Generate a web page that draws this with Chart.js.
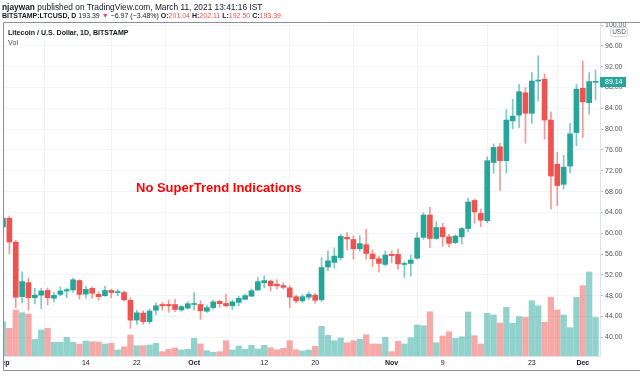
<!DOCTYPE html>
<html>
<head>
<meta charset="utf-8">
<script src="https://cdn.jsdelivr.net/npm/chart.js@4.4.1/dist/chart.umd.min.js"></script>
<style>
  html, body { margin: 0; padding: 0; background: #fff; }
  #wrap { position: relative; width: 640px; height: 376px; overflow: hidden;
          font-family: 'Liberation Sans', Arial, sans-serif; color: #131722; }
  #chart { position: absolute; left: 0; top: 0; }
  .txt { position: absolute; white-space: nowrap; line-height: 1; }
  .dn { color: #ef5350; }
  #line1 { left: 2px; top: 2.5px; font-size: 8.35px; }
  #line2 { left: 2px; top: 12px; font-size: 7px; }
  #sym { left: 8px; top: 28.5px; font-size: 7.05px; font-weight: bold; }
  #vol { left: 8px; top: 38.5px; font-size: 7.2px; color: #50535e; }
  #note { left: 136px; top: 181px; font-size: 13px; font-weight: bold; color: #ff0000; }
</style>
</head>
<body>
<div id="wrap">
  <canvas id="chart" width="640" height="376"></canvas>
  <div class="txt" id="line1"><b>njaywan</b> published on TradingView.com, March 11, 2021 13:41:16 IST</div>
  <div class="txt" id="line2"><b>BITSTAMP:LTCUSD, D</b> 193.39 <span class="dn">▼</span> −6.97 (−3.48%) <b>O:</b><span class="dn">201.04</span> <b>H:</b><span class="dn">202.11</span> <b>L:</b><span class="dn">192.50</span> <b>C:</b><span class="dn">193.39</span></div>
  <div class="txt" id="sym">Litecoin / U.S. Dollar, 1D, BITSTAMP</div>
  <div class="txt" id="vol">Vol</div>
  <div class="txt" id="note">No SuperTrend Indications</div>
</div>
<script>
// daily candles, 1 Sep 2020 (day 0) to 3 Dec 2020 (day 93)
const open  = [61.2, 62.9, 58.3, 47.8, 50.5, 47.6, 48.1, 49.0, 47.5, 48.25,
               48.9, 49.1, 50.9, 48.3, 49.4, 48.25, 48.0, 49.0, 48.6, 48.6,
               47.1, 43.3, 44.65, 43.0, 45.2, 46.3, 46.3, 46.3, 45.25, 45.6,
               46.3, 46.3, 45.0, 45.7, 46.9, 46.5, 46.05, 46.7, 47.3, 47.9,
               49.1, 50.5, 50.8, 50.2, 49.95, 49.5, 47.8, 47.0, 47.7, 48.1,
               47.2, 53.5, 54.4, 55.3, 59.2, 58.8, 57.0, 57.8, 56.0, 55.1,
               54.0, 55.95, 55.95, 54.0, 54.2, 55.2, 59.2, 63.5, 59.0, 61.1,
               59.3, 58.2, 59.3, 60.9, 66.3, 63.8, 62.4, 73.6, 76.6, 73.95,
               81.6, 82.7, 87.0, 83.05, 89.25, 89.6, 81.75, 73.25, 69.4, 72.9,
               79.35, 87.85, 85.1, 89.0];
const high  = [63.3, 63.3, 58.6, 52.6, 51.4, 49.4, 49.4, 49.5, 48.6, 49.7,
               49.5, 51.4, 51.05, 49.8, 49.7, 48.75, 49.85, 49.2, 49.2, 48.9,
               47.6, 45.2, 45.1, 45.4, 46.6, 46.7, 47.15, 47.3, 46.1, 46.8,
               48.6, 47.0, 46.2, 47.15, 47.15, 48.3, 47.15, 47.9, 48.3, 49.3,
               51.45, 51.8, 51.0, 51.1, 50.45, 49.9, 48.1, 48.2, 48.7, 48.4,
               55.3, 56.6, 57.2, 59.8, 60.1, 59.5, 59.5, 60.8, 56.8, 55.6,
               56.6, 56.6, 56.95, 54.5, 55.8, 60.1, 63.95, 65.0, 62.2, 61.9,
               59.8, 59.7, 61.1, 66.7, 66.6, 64.65, 74.7, 77.15, 77.3, 83.8,
               85.75, 88.6, 88.0, 90.9, 94.1, 90.6, 83.35, 75.55, 75.0, 81.1,
               88.6, 93.1, 90.9, 91.4];
const low   = [60.8, 56.1, 45.7, 46.6, 45.2, 46.4, 45.5, 46.2, 46.8, 48.0,
               47.6, 48.6, 47.35, 47.5, 47.5, 47.15, 47.85, 47.6, 48.0, 47.0,
               41.7, 42.5, 42.5, 42.6, 44.3, 45.2, 44.8, 44.9, 45.0, 45.4,
               45.2, 43.45, 44.8, 45.4, 45.75, 45.85, 45.3, 46.05, 47.2, 47.8,
               48.9, 49.5, 48.9, 49.3, 49.3, 45.7, 46.6, 46.7, 47.2, 46.5,
               46.9, 52.8, 53.25, 54.85, 56.8, 55.0, 56.6, 55.0, 53.55, 52.5,
               53.7, 54.3, 53.1, 51.5, 51.75, 55.0, 58.8, 57.2, 58.8, 57.5,
               57.3, 58.0, 57.9, 60.3, 61.9, 61.25, 62.0, 71.5, 68.2, 71.5,
               80.1, 80.35, 77.3, 81.1, 85.4, 78.05, 64.6, 65.3, 68.5, 71.6,
               76.8, 78.4, 82.9, 85.6];
const close = [62.9, 58.3, 47.7, 50.7, 47.6, 48.1, 48.9, 47.6, 48.05, 48.9,
               49.15, 51.05, 48.25, 49.2, 48.45, 47.8, 49.0, 48.6, 48.75, 47.2,
               43.3, 44.7, 43.0, 45.05, 46.05, 46.05, 46.05, 45.35, 45.9, 46.45,
               46.4, 45.1, 45.7, 46.8, 46.45, 46.05, 46.8, 47.5, 48.0, 48.95,
               50.7, 50.9, 49.9, 49.9, 49.6, 47.7, 47.0, 47.8, 48.25, 47.1,
               53.4, 54.7, 55.6, 59.4, 58.9, 57.0, 58.0, 56.1, 55.1, 54.2,
               55.8, 55.7, 54.1, 54.15, 54.85, 59.1, 63.5, 59.0, 61.1, 59.3,
               58.05, 59.45, 60.9, 66.0, 64.1, 62.5, 73.95, 76.5, 73.95, 81.75,
               82.5, 87.2, 83.05, 89.25, 89.45, 81.75, 71.0, 69.15, 72.7, 79.1,
               87.7, 85.25, 89.15, 89.14];
// volume, thousand LTC
const volume = [343, 277, 460, 433, 420, 167, 260, 277, 137, 137,
                187, 137, 120, 150, 143, 140, 120, 127, 60, 93,
                210, 103, 103, 110, 127, 43, 67, 80, 60, 67,
                177, 120, 53, 37, 43, 153, 60, 100, 67, 107,
                70, 107, 83, 63, 77, 153, 63, 50, 60, 97,
                297, 207, 153, 180, 133, 153, 167, 213, 120, 120,
                187, 43, 147, 120, 183, 310, 303, 443, 133, 200,
                243, 177, 193, 440, 203, 120, 427, 410, 330, 487,
                327, 393, 387, 553, 503, 337, 587, 460, 410, 283,
                587, 703, 840, 387];

const tickDay  = [0, 13, 21, 30, 41, 49, 61, 69, 83, 91];
const tickText = ['Sep', '14', '22', 'Oct', '12', '20', 'Nov', '9', '23', 'Dec'];
const priceTicks = [40, 44, 48, 52, 56, 60, 64, 68, 72, 76, 80, 84, 88, 92, 96, 100];

const FONT = "'Liberation Sans', Arial, sans-serif";
const UP = '#26a69a', DOWN = '#ef5350';

const days = open.map((_, i) => i);
const isUp = days.map(i => close[i] >= open[i]);

function tickLabel(v) {
    const k = tickDay.indexOf(v);
    return k < 0 ? '' : tickText[k];
}

const overlay = {
    id: 'overlay',
    afterDraw(chart) {
        const { ctx } = chart;
        const y = chart.scales.y;
        const last = close[close.length - 1];
        const py = Math.round(y.getPixelForValue(last));
        ctx.save();

        // last price tag on the price axis
        ctx.fillStyle = UP;
        ctx.fillRect(600, py - 5, 26, 10);
        ctx.fillStyle = '#ffffff';
        ctx.font = '7px ' + FONT;
        ctx.textBaseline = 'middle';
        ctx.textAlign = 'left';
        ctx.fillText(last.toFixed(2), 605, py + 0.5);

        // currency box
        ctx.fillStyle = '#ffffff';
        ctx.strokeStyle = '#d1d4dc';
        ctx.lineWidth = 1;
        ctx.beginPath();
        ctx.roundRect(610.5, 27.5, 17, 9, 2);
        ctx.fill();
        ctx.stroke();
        ctx.fillStyle = '#50535e';
        ctx.font = '6.5px ' + FONT;
        ctx.textAlign = 'center';
        ctx.fillText('USD', 619, 32.5);

        // the pane frame hides what lies left of it
        ctx.fillStyle = '#ffffff';
        ctx.fillRect(0, 357, 4, 13);

        // snapshot frame
        ctx.strokeStyle = '#8f8f8f';
        ctx.lineWidth = 1;
        ctx.beginPath();
        ctx.moveTo(640, 22.5);
        ctx.lineTo(3.5, 22.5);
        ctx.lineTo(3.5, 370.5);
        ctx.lineTo(640, 370.5);
        ctx.stroke();
        ctx.restore();
    }
};

new Chart(document.getElementById('chart'), {
    type: 'bar',
    data: {
        datasets: [
            {
                label: 'Body',
                data: days.map(i => ({ x: i, y: [open[i], close[i]] })),
                backgroundColor: isUp.map(u => u ? UP : DOWN),
                barThickness: 5,
                minBarLength: 1,
                grouped: false,
                yAxisID: 'y',
                order: 0
            },
            {
                label: 'Wick',
                data: days.map(i => ({ x: i, y: [low[i], high[i]] })),
                backgroundColor: isUp.map(u => u ? 'rgba(38,166,154,0.6)' : 'rgba(239,83,80,0.6)'),
                barThickness: 1,
                grouped: false,
                yAxisID: 'y',
                order: 1
            },
            {
                label: 'Vol',
                data: days.map(i => ({ x: i, y: volume[i] })),
                backgroundColor: isUp.map(u => u ? 'rgba(38,166,154,0.5)' : 'rgba(239,83,80,0.5)'),
                barThickness: 5.6,
                grouped: false,
                yAxisID: 'v',
                order: 2
            }
        ]
    },
    options: {
        responsive: false,
        animation: false,
        layout: { padding: { left: 3, top: 22, right: 0, bottom: 6 } },
        plugins: {
            legend: { display: false },
            tooltip: { enabled: false }
        },
        scales: {
            x: {
                type: 'linear',
                min: 0,
                max: 93.7,
                offset: false,
                afterBuildTicks: s => { s.ticks = tickDay.map(v => ({ value: v })); },
                afterFit: s => { s.height = 14; s.paddingLeft = 0; s.paddingRight = 0; },
                ticks: {
                    autoSkip: false,
                    maxRotation: 0,
                    padding: 3,
                    color: '#131722',
                    font: ctx => ({
                        family: FONT,
                        size: 7,
                        weight: (ctx.tick && /[A-Z]/.test(tickLabel(ctx.tick.value))) ? 'bold' : 'normal'
                    }),
                    callback: v => tickLabel(v)
                },
                grid: { color: '#f0f3fa', drawTicks: false },
                border: { color: '#e0e3eb' }
            },
            y: {
                position: 'right',
                min: 36.4,
                max: 100.6,
                afterBuildTicks: s => { s.ticks = priceTicks.map(v => ({ value: v })); },
                afterFit: s => { s.width = 40; s.paddingTop = 0; s.paddingBottom = 0; },
                ticks: {
                    padding: 2,
                    color: '#50535e',
                    font: { family: FONT, size: 7 },
                    callback: v => v.toFixed(2)
                },
                grid: { color: '#f0f3fa', tickColor: '#b2b5be', tickLength: 3 },
                border: { color: '#e0e3eb' }
            },
            v: {
                display: false,
                min: 0,
                max: 3340
            }
        }
    },
    plugins: [overlay]
});
</script>
</body>
</html>
